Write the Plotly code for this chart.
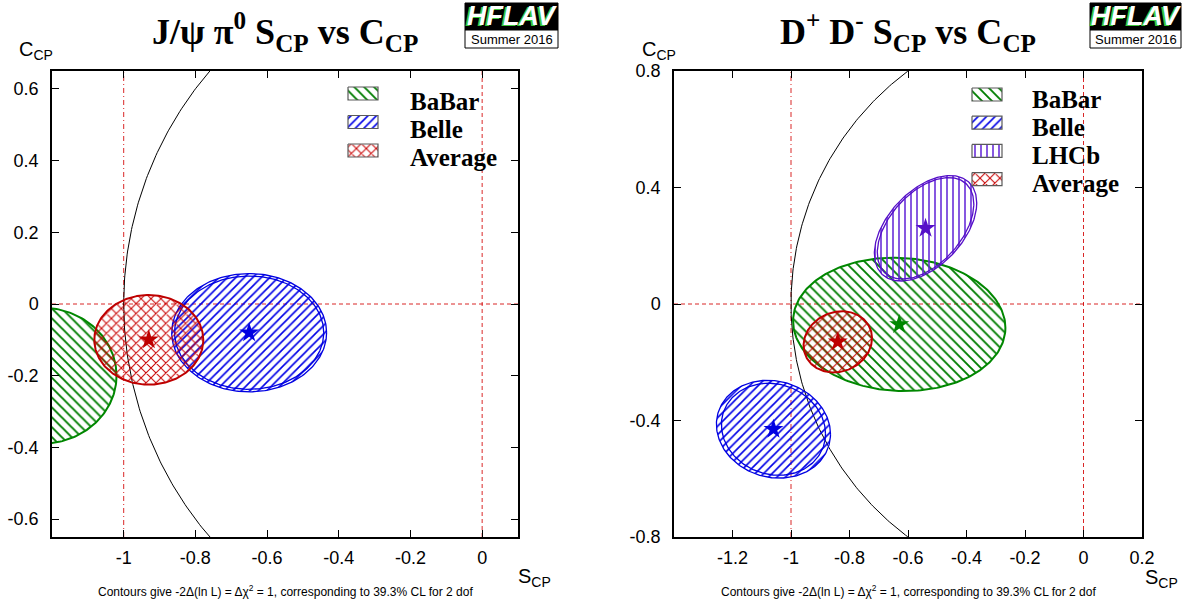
import numpy as np
import plotly.graph_objects as go

# ---------------- data ----------------
# J/psi pi0
JPSI_EXPTS = ["BaBar", "Belle", "Average"]
JPSI_S = [-1.23, -0.65, -0.93]
JPSI_C = [-0.20, -0.08, -0.10]
JPSI_S_ERR = [0.21, 0.216, 0.152]
JPSI_C_ERR = [0.19, 0.165, 0.125]
JPSI_RHO = [0.0, 0.0, 0.0]
JPSI_S_STAT = [None, 0.208, None]
JPSI_C_STAT = [None, 0.158, None]

# D+ D-
DD_EXPTS = ["BaBar", "Belle", "LHCb", "Average"]
DD_S = [-0.63, -1.06, -0.54, -0.84]
DD_C = [-0.07, -0.43, 0.26, -0.13]
DD_S_ERR = [0.363, 0.195, 0.175, 0.117]
DD_C_ERR = [0.229, 0.168, 0.181, 0.105]
DD_RHO = [-0.05, -0.10, 0.48, 0.12]
DD_S_STAT = [None, 0.178, 0.165, None]
DD_C_STAT = [None, 0.158, 0.174, None]

# axis ticks
JPSI_XTICKS = [-1.0, -0.8, -0.6, -0.4, -0.2, 0.0]
JPSI_XTICKTEXT = ["-1", "-0.8", "-0.6", "-0.4", "-0.2", "0"]
JPSI_YTICKS = [-0.6, -0.4, -0.2, 0.0, 0.2, 0.4, 0.6]
JPSI_YTICKTEXT = ["-0.6", "-0.4", "-0.2", "0", "0.2", "0.4", "0.6"]
DD_XTICKS = [-1.2, -1.0, -0.8, -0.6, -0.4, -0.2, 0.0, 0.2]
DD_XTICKTEXT = ["-1.2", "-1", "-0.8", "-0.6", "-0.4", "-0.2", "0", "0.2"]
DD_YTICKS = [-0.8, -0.4, 0.0, 0.4, 0.8]
DD_YTICKTEXT = ["-0.8", "-0.4", "0", "0.4", "0.8"]

TITLE_L = "J/ψ π<sup>0</sup> S<sub>CP</sub> vs C<sub>CP</sub>"
TITLE_R = "D<sup>+</sup> D<sup>-</sup> S<sub>CP</sub> vs C<sub>CP</sub>"
FOOTER = "Contours give -2Δ(ln L) = Δχ<sup>2</sup> = 1, corresponding to 39.3% CL for 2 dof"

# ---------------- styles ----------------
STYLE = {
    "BaBar": dict(color="rgb(0,135,0)", hatch="rgb(0,125,0)", shape="\\", size=7, sol=0.27, lw=2.0),
    "Belle": dict(color="rgb(0,0,225)", hatch="rgb(0,0,230)", shape="/", size=6, sol=0.27, lw=1.3),
    "LHCb": dict(color="rgb(85,15,200)", hatch="rgb(100,40,215)", shape="|", size=6, sol=0.26, lw=1.3),
    "Average": dict(color="rgb(190,0,0)", hatch="rgb(200,0,0)", shape="x", size=7, sol=0.27, lw=2.0),
}
W, H = 1184, 607
FONT_SANS = "Liberation Sans, Arial, sans-serif"
FONT_SERIF = "Liberation Serif, Times New Roman, serif"

# legend placement (pixels): key box left x, first box top y, box step, text x, text y0, text step
LEGEND_L = dict(box_x=348, box_y=87, step=28.5, text_x=408, text_y=101, text_step=28)
LEGEND_R = dict(box_x=972, box_y=88, step=28.2, text_x=1030, text_y=100, text_step=27.8)


def px(x):
    return x / W


def py(y):
    return 1 - y / H


def ellipse(s, c, es, ec, rho, n=240):
    t = np.linspace(0, 2 * np.pi, n)
    x = s + es * np.cos(t)
    y = c + ec * (rho * np.cos(t) + np.sqrt(1 - rho ** 2) * np.sin(t))
    return x, y


fig = go.Figure()
ann = []


def pattern(st):
    return dict(shape=st["shape"], fgcolor=st["hatch"], fgopacity=1,
                size=st["size"], solidity=st["sol"])


def add_panel(expts, S, C, es, ec, rho, es_stat, ec_stat, xa, ya):
    for i, name in enumerate(expts):
        st = STYLE[name]
        x, y = ellipse(S[i], C[i], es[i], ec[i], rho[i])
        fig.add_trace(go.Scatter(
            x=x, y=y, mode="lines", fill="toself", fillcolor="rgba(0,0,0,0)",
            fillpattern=pattern(st),
            line=dict(color=st["color"], width=st["lw"]),
            name=name, showlegend=False, xaxis=xa, yaxis=ya, hoverinfo="skip"))
        if es_stat[i] is not None:
            x2, y2 = ellipse(S[i], C[i], es_stat[i], ec_stat[i], rho[i])
            fig.add_trace(go.Scatter(
                x=x2, y=y2, mode="lines", line=dict(color=st["color"], width=st["lw"]),
                showlegend=False, xaxis=xa, yaxis=ya, hoverinfo="skip"))
        fig.add_trace(go.Scatter(
            x=[S[i]], y=[C[i]], mode="markers",
            marker=dict(symbol="star", size=15, color=st["color"], line=dict(width=0)),
            showlegend=False, xaxis=xa, yaxis=ya, hoverinfo="skip"))


def add_legend(expts, lg):
    # keys drawn on a pixel-space overlay axis (x3/y3)
    for i, name in enumerate(expts):
        st = STYLE[name]
        x0 = lg["box_x"]
        y0 = lg["box_y"] + i * lg["step"]
        fig.add_trace(go.Scatter(
            x=[x0, x0 + 30, x0 + 30, x0, x0], y=[y0, y0, y0 + 13, y0 + 13, y0],
            mode="lines", fill="toself", fillcolor="rgba(0,0,0,0)", fillpattern=pattern(st),
            line=dict(color="rgb(90,90,90)", width=1.2), showlegend=False,
            xaxis="x3", yaxis="y3", hoverinfo="skip"))
        ann.append(dict(x=px(lg["text_x"]), y=py(lg["text_y"] + i * lg["text_step"]),
                        xref="paper", yref="paper",
                        text=f"<b>{name}</b>", showarrow=False, xanchor="left",
                        yanchor="middle",
                        font=dict(family=FONT_SERIF, size=25, color="black")))


def add_circle(xa, ya):
    t = np.linspace(0, 2 * np.pi, 721)
    fig.add_trace(go.Scatter(x=np.cos(t), y=np.sin(t), mode="lines",
                             line=dict(color="black", width=1), showlegend=False,
                             xaxis=xa, yaxis=ya, hoverinfo="skip"))


# reference lines first (below)
RED = "rgba(210,0,0,0.85)"
for xa, ya in (("x", "y"), ("x2", "y2")):
    fig.add_shape(type="line", xref=xa, yref=f"{ya} domain", x0=-1, x1=-1, y0=0, y1=1,
                  line=dict(color=RED, width=1, dash="5px,3px,1px,3px"), layer="below")
    fig.add_shape(type="line", xref=xa, yref=f"{ya} domain", x0=0, x1=0, y0=0, y1=1,
                  line=dict(color=RED, width=1, dash="4px,3px"), layer="below")
    fig.add_shape(type="line", xref=f"{xa} domain", yref=ya, x0=0, x1=1, y0=0, y1=0,
                  line=dict(color=RED, width=1, dash="4px,3px"), layer="below")

add_circle("x", "y")
add_circle("x2", "y2")
add_panel(JPSI_EXPTS, JPSI_S, JPSI_C, JPSI_S_ERR, JPSI_C_ERR, JPSI_RHO,
          JPSI_S_STAT, JPSI_C_STAT, "x", "y")
add_panel(DD_EXPTS, DD_S, DD_C, DD_S_ERR, DD_C_ERR, DD_RHO,
          DD_S_STAT, DD_C_STAT, "x2", "y2")
add_legend(JPSI_EXPTS, LEGEND_L)
add_legend(DD_EXPTS, LEGEND_R)

axis_common = dict(showline=True, linecolor="black", linewidth=1.5, mirror="allticks",
                   ticks="inside", ticklen=7, tickwidth=1, tickcolor="black",
                   showgrid=False, zeroline=False, automargin=False,
                   tickfont=dict(family=FONT_SANS, size=18, color="black"))

fig.update_layout(
    width=W, height=H, margin=dict(l=0, r=0, t=0, b=0, autoexpand=False),
    paper_bgcolor="white", plot_bgcolor="rgba(0,0,0,0)",
    xaxis=dict(domain=[px(52), px(518)], range=[-1.2, 0.1], anchor="y",
               tickvals=JPSI_XTICKS, ticktext=JPSI_XTICKTEXT, ticklabelstandoff=4, **axis_common),
    yaxis=dict(domain=[py(537), py(71)], range=[-0.65, 0.65], anchor="x",
               tickvals=JPSI_YTICKS, ticktext=JPSI_YTICKTEXT, ticklabelstandoff=8, **axis_common),
    xaxis2=dict(domain=[px(674), px(1142)], range=[-1.4, 0.2], anchor="y2",
                tickvals=DD_XTICKS, ticktext=DD_XTICKTEXT, ticklabelstandoff=4, **axis_common),
    yaxis2=dict(domain=[py(537), py(71)], range=[-0.8, 0.8], anchor="x2",
                tickvals=DD_YTICKS, ticktext=DD_YTICKTEXT, ticklabelstandoff=8, **axis_common),
    xaxis3=dict(domain=[0, 1], range=[0, W], anchor="y3", visible=False, fixedrange=True),
    yaxis3=dict(domain=[0, 1], range=[H, 0], anchor="x3", visible=False, fixedrange=True),
    showlegend=False,
)

# titles
for xc, txt in ((285, TITLE_L), (908, TITLE_R)):
    ann.append(dict(x=px(xc), y=py(32), xref="paper", yref="paper", text=f"<b>{txt}</b>",
                    showarrow=False, xanchor="center", yanchor="middle",
                    font=dict(family=FONT_SERIF, size=36, color="black")))
# footers
for xc in (285, 908):
    ann.append(dict(x=px(xc), y=py(591), xref="paper", yref="paper", text=FOOTER,
                    showarrow=False, xanchor="center", yanchor="middle",
                    font=dict(family=FONT_SANS, size=12, color="black")))
# axis titles
for (xc, yc) in ((36, 50), (659, 50)):
    ann.append(dict(x=px(xc), y=py(yc), xref="paper", yref="paper", text="C<sub>CP</sub>",
                    showarrow=False, xanchor="center", yanchor="middle",
                    font=dict(family=FONT_SANS, size=20, color="black")))
for (xc, yc) in ((534, 577), (1161, 578)):
    ann.append(dict(x=px(xc), y=py(yc), xref="paper", yref="paper", text="S<sub>CP</sub>",
                    showarrow=False, xanchor="center", yanchor="middle",
                    font=dict(family=FONT_SANS, size=20, color="black")))

# HFLAV logos
for (x0, x1) in ((465, 558), (1090, 1181)):
    fig.add_shape(type="rect", xref="paper", yref="paper", x0=px(x0), x1=px(x1),
                  y0=py(30), y1=py(3), fillcolor="black", line=dict(color="black", width=1))
    fig.add_shape(type="rect", xref="paper", yref="paper", x0=px(x0), x1=px(x1),
                  y0=py(48), y1=py(30), fillcolor="white", line=dict(color="black", width=1))
    ann.append(dict(x=px((x0 + x1) / 2), y=py(16.5), xref="paper", yref="paper",
                    text="<i><b>HFLAV</b></i>", showarrow=False, xanchor="center", yanchor="middle",
                    font=dict(family=FONT_SANS, size=27, color="white",
                              shadow="-2px 1px 0px rgb(60,200,60)")))
    ann.append(dict(x=px((x0 + x1) / 2), y=py(39.5), xref="paper", yref="paper",
                    text="Summer 2016", showarrow=False, xanchor="center", yanchor="middle",
                    font=dict(family=FONT_SANS, size=13, color="black")))

fig.update_layout(annotations=ann)
fig.write_html("out.html", config={"displayModeBar": False},
               post_script="document.body.style.margin='0px';document.body.style.overflow='hidden';")
